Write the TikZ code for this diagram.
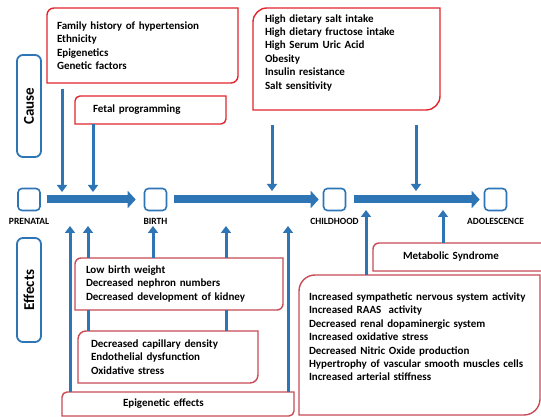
\documentclass[tikz,border=0pt]{standalone}
\usepackage{fontspec}
\setmainfont{Carlito}
\usepackage{xcolor}
\usepackage{tikz}
\usetikzlibrary{arrows.meta}
\usetikzlibrary{positioning}

\definecolor{tlblue}{HTML}{2E75B6}
\definecolor{causered}{HTML}{E3262F}
\definecolor{effectred}{HTML}{C94A55}

\tikzset{
  txtbox/.style={anchor=north west, align=left, inner ysep=0pt, outer sep=0pt,
    font=\fontsize{11}{13.4}\selectfont\bfseries},
  sidebox/.style={draw=tlblue, line width=1.8pt, rounded corners=6pt, rotate=90,
    minimum height=24pt, inner sep=0pt, font=\fontsize{15}{18}\selectfont\bfseries},
  stage/.style={draw=tlblue, line width=1.6pt, rounded corners=4pt, minimum size=22pt,
    inner sep=0pt, fill=white},
  stagelabel/.style={below=7pt of #1, inner sep=0pt, font=\fontsize{9.5}{11}\selectfont\bfseries},
  timeline/.style={tlblue, line width=8pt, -{Triangle[length=8pt,width=17pt]}},
  flow/.style={tlblue, line width=3pt, -{Triangle[length=7pt,width=10pt]}},
  joinline/.style={tlblue, line width=3pt},
}

% box with rounded top left and bottom right corners
\newcommand{\diagframe}[3]{%
  \draw[#2, line width=1.4pt]
    ([yshift=-#3]#1.north west) .. controls ([yshift=-0.45*#3]#1.north west) and ([xshift=0.45*#3]#1.north west) .. ([xshift=#3]#1.north west)
    -- (#1.north east) -- ([yshift=#3]#1.south east)
    .. controls ([yshift=0.45*#3]#1.south east) and ([xshift=-0.45*#3]#1.south east) .. ([xshift=-#3]#1.south east)
    -- (#1.south west) -- cycle;}

\begin{document}
\begin{tikzpicture}[x=1pt,y=1pt]
  \path[use as bounding box, fill=white] (0,0) rectangle (541,417);

  \node[txtbox, minimum width=191pt, minimum height=75pt, inner xsep=10pt, text width=171pt] (famhist) at (47,409)
    {Family history of hypertension\\Ethnicity\\Epigenetics\\Genetic factors};
  \node[txtbox, minimum width=151pt, minimum height=28pt, inner xsep=18pt, text width=115pt] (fetal) at (75,321)
    {Fetal programming};
  \node[txtbox, minimum width=187pt, minimum height=102pt, inner xsep=12pt, text width=163pt] (diet) at (253,409)
    {High dietary salt intake\\High dietary fructose intake\\High Serum Uric Acid\\Obesity\\Insulin resistance\\Salt sensitivity\\[1pt]\mbox{}};
  \node[txtbox, minimum width=208pt, minimum height=52pt, inner xsep=11pt, text width=186pt] (lowbw) at (75,159)
    {Low birth weight\\Decreased nephron numbers\\Decreased development of kidney};
  \node[txtbox, minimum width=180pt, minimum height=52pt, inner xsep=13pt, text width=154pt] (capil) at (78,86)
    {Decreased capillary density\\Endothelial dysfunction\\Oxidative stress};
  \node[txtbox, minimum width=232pt, minimum height=24pt, inner xsep=61pt, text width=110pt] (epigen) at (62,25)
    {Epigenetic effects};
  \node[txtbox, minimum width=175pt, minimum height=28pt, inner xsep=30pt, text width=115pt] (metab) at (373,174)
    {Metabolic Syndrome};
  \node[txtbox, minimum width=241pt, minimum height=140pt, inner xsep=10pt, text width=221pt] (mechan) at (299,142)
    {Increased sympathetic nervous system activity\\Increased RAAS~ activity\\Decreased renal dopaminergic system\\Increased oxidative stress\\Decreased Nitric Oxide production\\Hypertrophy of vascular smooth muscles cells\\Increased arterial stiffness\\[3pt]\mbox{}};

  \diagframe{famhist}{causered}{7pt}
  \diagframe{fetal}{causered}{5pt}
  \diagframe{diet}{causered}{14pt}
  \diagframe{lowbw}{effectred}{6pt}
  \diagframe{capil}{effectred}{8pt}
  \diagframe{epigen}{effectred}{5pt}
  \diagframe{metab}{effectred}{6pt}
  \diagframe{mechan}{effectred}{16pt}

  \node[sidebox, minimum width=102pt] (cause) at (29,311) {Cause};
  \node[sidebox, minimum width=104pt] (effects) at (29,127) {Effects};

  \node[stage] (prenatal) at (29,217.5) {};
  \node[stage] (birth) at (155.5,217.5) {};
  \node[stage] (childhood) at (334.5,217.5) {};
  \node[stage] (adolescence) at (495.5,217.5) {};
  \node[stagelabel=prenatal] (prenatallbl) {PRENATAL};
  \node[stagelabel=birth] (birthlbl) {BIRTH};
  \node[stagelabel=childhood] (childhoodlbl) {CHILDHOOD};
  \node[stagelabel=adolescence] (adolescencelbl) {ADOLESCENCE};

  \draw[timeline] ([xshift=6pt]prenatal.east) -- ([xshift=-8pt]birth.west);
  \draw[timeline] ([xshift=7pt]birth.east) -- ([xshift=-4pt]childhood.west);
  \draw[timeline] ([xshift=8pt]childhood.east) -- ([xshift=-4pt]adolescence.west);

  \coordinate (famtip) at (62,225);
  \coordinate (fetaltip) at (93,225);
  \coordinate (diettipa) at (272,226);
  \coordinate (diettipb) at (416,226);
  \draw[flow] ([yshift=-6pt]famhist.south -| famtip) -- (famtip);
  \draw[flow] (fetal.south -| fetaltip) -- (fetaltip);
  \draw[flow] ([yshift=-15pt]diet.south -| diettipa) -- (diettipa);
  \draw[flow] ([yshift=-15pt]diet.south -| diettipb) -- (diettipb);

  \coordinate (epitipa) at (70,191);
  \coordinate (lowtipa) at (88,191);
  \coordinate (lowtipb) at (153,191);
  \coordinate (lowtipc) at (226,191);
  \coordinate (epitipb) at (288,191);
  \coordinate (mechtip) at (366,207);
  \coordinate (metabtip) at (443,207);
  \draw[flow] (epigen.north -| epitipa) -- (epitipa);
  \draw[flow] (lowbw.north -| lowtipa) -- (lowtipa);
  \draw[joinline] (capil.north -| lowtipa) -- (lowbw.south -| lowtipa);
  \draw[flow] (lowbw.north -| lowtipb) -- (lowtipb);
  \draw[flow] (lowbw.north -| lowtipc) -- (lowtipc);
  \draw[joinline] (capil.north -| lowtipc) -- (lowbw.south -| lowtipc);
  \draw[flow] (epigen.north -| epitipb) -- (epitipb);
  \draw[flow] (mechan.north -| mechtip) -- (mechtip);
  \draw[flow] (metab.north -| metabtip) -- (metabtip);
\end{tikzpicture}
\end{document}
